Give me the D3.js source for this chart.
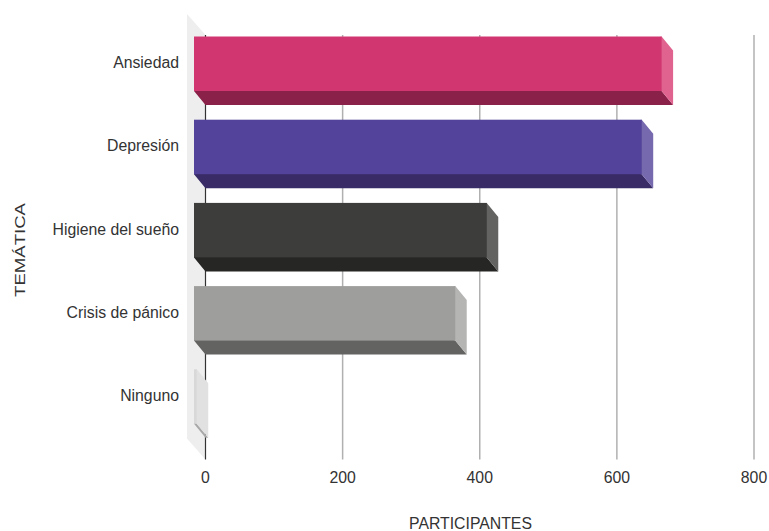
<!DOCTYPE html>
<html><head><meta charset="utf-8">
<script src="https://cdn.jsdelivr.net/npm/d3@7/dist/d3.min.js"></script>
<style>html,body{margin:0;padding:0;background:#fff}svg{display:block}text{font-family:"Liberation Sans",Arial,sans-serif;fill:#333}</style>
</head><body><svg id="c" width="769" height="531"></svg>
<script>
const categories=["Ansiedad","Depresión","Higiene del sueño","Crisis de pánico","Ninguno"];
const values=[682,653,427,381,4];
const frontColors=["#d13670","#54439a","#3d3d3c","#9e9e9d","#d8d8d8"];
const sideColors=["#e0628f","#7669ae","#636362","#b5b5b4","#e1e1e1"];
const bottomColors=["#8a2148","#392c66","#262625","#636362","#a8a8a8"];
const xTicks=[0,200,400,600,800];
const depthX=11.5,depthY=14;
const svg=d3.select("#c");
const x=d3.scaleLinear().domain([0,800]).range([205.5,754]);
const y=d3.scaleBand().domain(categories).range([36.5,423.8]).paddingInner(0.345).paddingOuter(0);
const plotTop=35,plotBottom=459.5;
// side wall
svg.append("polygon").attr("fill","#eeeeee")
  .attr("points",[[x(0),plotTop],[x(0)-18.5,plotTop-21],[x(0)-18.5,plotBottom-21],[x(0),plotBottom]].join(" "));
// grid
svg.append("g").selectAll("line").data(xTicks).join("line")
  .attr("x1",d=>x(d)).attr("x2",d=>x(d)).attr("y1",plotTop).attr("y2",plotBottom)
  .attr("stroke",d=>d===0?"#333333":"#b0b0b0").attr("stroke-width",d=>d===0?1.2:1.5);
// bars
const g=svg.append("g").selectAll("g").data(categories).join("g");
const fx=v=>x(v)-depthX;
g.append("polygon").attr("fill",(d,i)=>bottomColors[i]).attr("points",(d,i)=>{
  const l=x(0)-depthX,r=fx(values[i]),b=y(d)+y.bandwidth();
  return [[l,b-1],[r,b-1],[r,b],[r+depthX,b+depthY],[l+depthX,b+depthY],[l,b]].join(" ");});
g.append("polygon").attr("fill",(d,i)=>sideColors[i]).attr("points",(d,i)=>{
  const r=fx(values[i]),t=y(d),b=t+y.bandwidth();
  return [[r-1,t],[r,t],[r+depthX,t+depthY],[r+depthX,b+depthY],[r,b],[r-1,b]].join(" ");});
g.append("rect").attr("fill",(d,i)=>frontColors[i])
  .attr("x",x(0)-depthX).attr("y",d=>y(d))
  .attr("width",(d,i)=>fx(values[i])-(x(0)-depthX)).attr("height",y.bandwidth());
// labels
svg.append("g").selectAll("text").data(categories).join("text")
  .attr("x",179).attr("y",d=>y(d)+y.bandwidth()/2+4.5).attr("text-anchor","end")
  .attr("font-size",15.8).text(d=>d);
svg.append("g").selectAll("text").data(xTicks).join("text")
  .attr("x",d=>x(d)).attr("y",483).attr("text-anchor","middle")
  .attr("font-size",15.8).text(d=>d);
svg.append("text").attr("x",470.5).attr("y",529).attr("text-anchor","middle")
  .attr("font-size",15.8).text("PARTICIPANTES");
svg.append("text").attr("transform","translate(25,250) rotate(-90) scale(1.24,1)").attr("text-anchor","middle")
  .attr("font-size",15).text("TEMÁTICA");
</script></body></html>
